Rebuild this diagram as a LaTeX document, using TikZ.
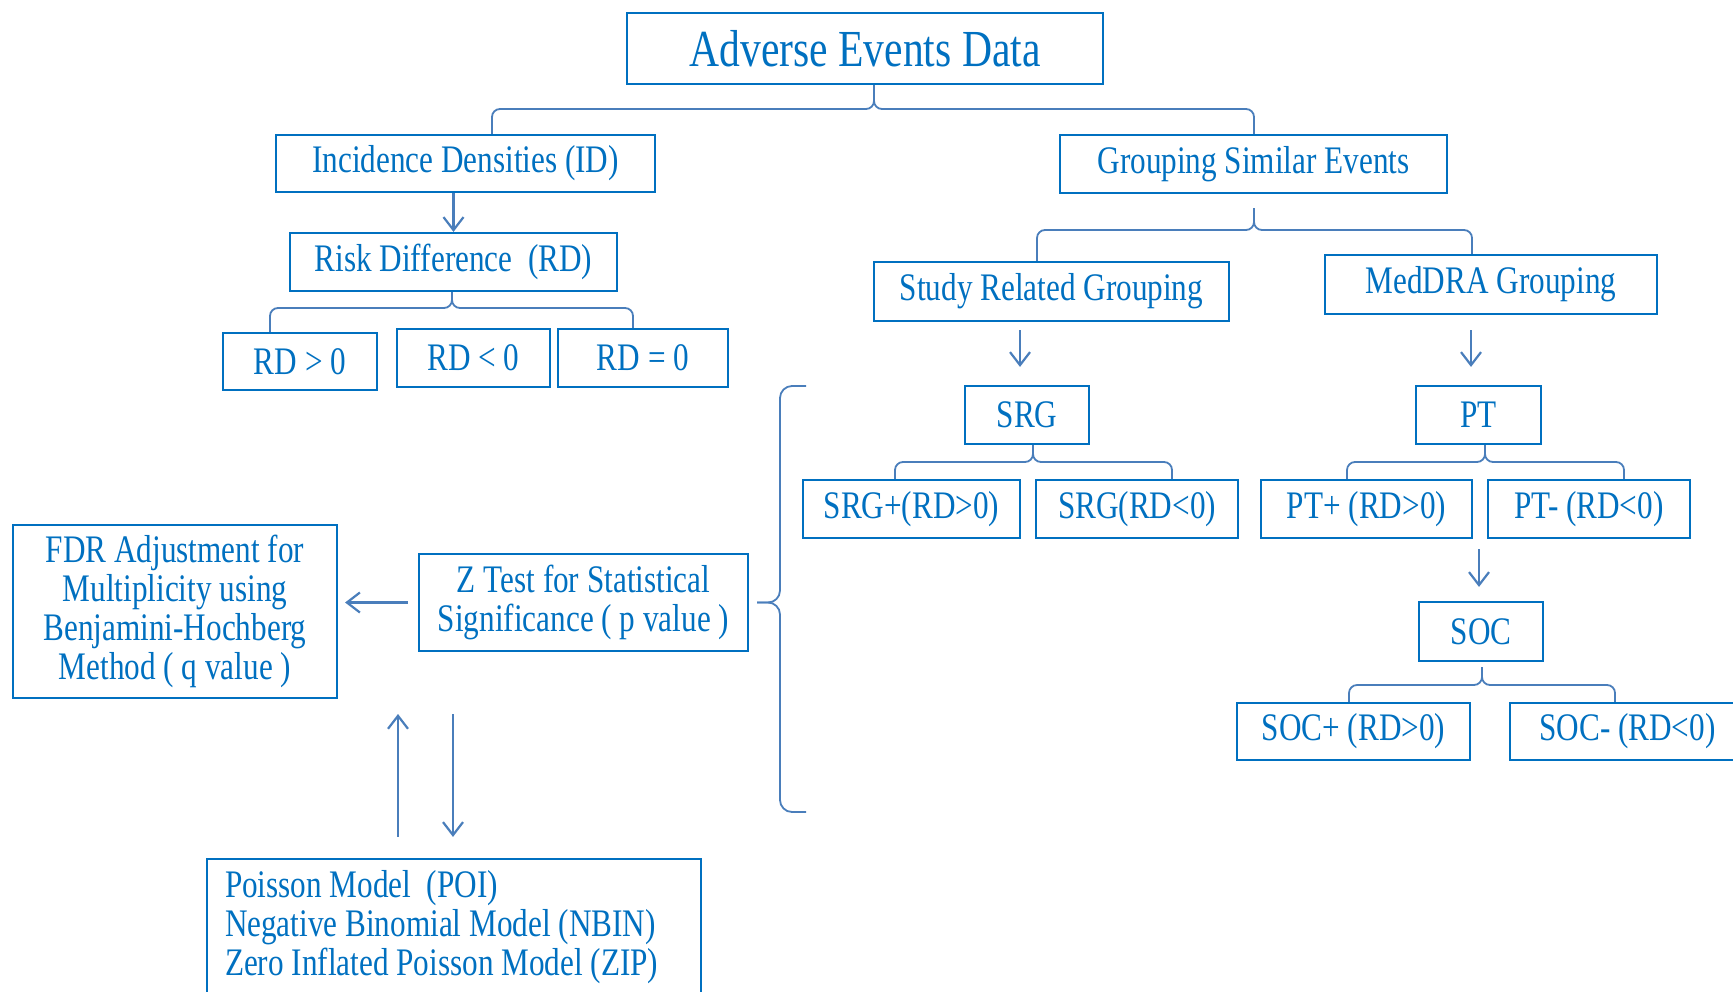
\documentclass[tikz,border=0pt]{standalone}
\usepackage{fontspec}
\setmainfont{Liberation Serif}[FakeStretch=0.8]
\usetikzlibrary{arrows.meta}
\definecolor{txtc}{RGB}{0,112,192}
\definecolor{boxc}{RGB}{0,112,192}
\definecolor{linec}{RGB}{74,126,187}
\begin{document}
\begin{tikzpicture}[x=0.5pt,y=-0.5pt,
  box/.style={draw=boxc, line width=1.1pt, text=txtc, inner sep=0pt, align=center,
    font=\fontsize{19.5}{19.5}\selectfont},
  conn/.style={draw=linec, line width=0.9pt},
  arr/.style={conn, line width=1.1pt, -{Straight Barb[length=6.5pt,width=10pt]}},
  brc/.style={conn, rounded corners=4pt}]
\useasboundingbox (0,0) rectangle (1733,991);
\clip (0,0) rectangle (1733,991);
% nodes
\node[box, minimum width=238pt, minimum height=35.5pt, font=\fontsize{26}{26}\selectfont] (aed) at (865,48.5) {Adverse Events Data};
\node[box, minimum width=189.5pt, minimum height=28.5pt] (id) at (465.5,163.5) {Incidence Densities (ID)};
\node[box, minimum width=193.5pt, minimum height=29pt] (gse) at (1253.5,164) {Grouping Similar Events};
\node[box, minimum width=163.5pt, minimum height=29pt] (rd) at (453.5,262) {Risk Difference\ \ (RD)};
\node[box, minimum width=77pt, minimum height=28.5pt] (rdp) at (300,361.5) {RD > 0};
\node[box, minimum width=76.5pt, minimum height=29pt] (rdn) at (473.5,358) {RD < 0};
\node[box, minimum width=85pt, minimum height=29pt] (rdz) at (643,358) {RD = 0};
\node[box, minimum width=177.5pt, minimum height=29.5pt] (srgg) at (1051.5,291.5) {Study Related Grouping};
\node[box, minimum width=166pt, minimum height=29.5pt] (med) at (1491,284.5) {MedDRA Grouping};
\node[box, minimum width=62pt, minimum height=29pt] (srg) at (1027,415) {SRG};
\node[box, minimum width=62.5pt, minimum height=29pt] (pt) at (1478.5,415) {PT};
\node[box, minimum width=108.5pt, minimum height=29pt] (srgp) at (911.5,509) {SRG+(RD>0)};
\node[box, minimum width=101pt, minimum height=29pt] (srgn) at (1137,509) {SRG(RD<0)};
\node[box, minimum width=105.5pt, minimum height=29pt] (ptp) at (1366.5,509) {PT+ (RD>0)};
\node[box, minimum width=101pt, minimum height=29pt] (ptn) at (1589,509) {PT- (RD<0)};
\node[box, minimum width=62pt, minimum height=29.5pt] (soc) at (1481,631.5) {SOC};
\node[box, minimum width=116.5pt, minimum height=28.5pt] (socp) at (1353.5,731.5) {SOC+ (RD>0)};
\node[box, minimum width=117.5pt, minimum height=28.5pt] (socn) at (1627.5,731.5) {SOC- (RD<0)};
\node[box, minimum width=164.5pt, minimum height=48.5pt] (zt) at (583.5,602.5) {Z Test for Statistical\\Significance ( p value )};
\node[box, minimum width=162pt, minimum height=86.5pt] (fdr) at (175,611.5) {FDR Adjustment for\\Multiplicity using\\Benjamini-Hochberg\\Method ( q value )};
\node[box, minimum width=247pt, minimum height=68.5pt, text width=229pt, align=flush left] (pm) at (454,927.5) {Poisson Model\ \ (POI)\\Negative Binomial Model (NBIN)\\Zero Inflated Poisson Model (ZIP)};
% braces
\coordinate (b1) at (874,109); \coordinate (b1l) at (492,0); \coordinate (b1r) at (1254,0);
\draw[brc] (aed.south -| b1) -- (b1) -| (id.north -| b1l);
\draw[brc] (aed.south -| b1) -- (b1) -| (gse.north -| b1r);
\coordinate (b2) at (452,308); \coordinate (b2l) at (270,0); \coordinate (b2r) at (633,0);
\draw[brc] (rd.south -| b2) -- (b2) -| (rdp.north -| b2l);
\draw[brc] (rd.south -| b2) -- (b2) -| (rdz.north -| b2r);
\coordinate (b3) at (1254,230); \coordinate (b3l) at (1037,0); \coordinate (b3r) at (1472,0);
\draw[brc, shorten <=7pt] (gse.south -| b3) -- (b3) -| (srgg.north -| b3l);
\draw[brc, shorten <=7pt] (gse.south -| b3) -- (b3) -| (med.north -| b3r);
\coordinate (b4) at (1033,462); \coordinate (b4l) at (895,0); \coordinate (b4r) at (1172,0);
\draw[brc] (srg.south -| b4) -- (b4) -| (srgp.north -| b4l);
\draw[brc] (srg.south -| b4) -- (b4) -| (srgn.north -| b4r);
\coordinate (b5) at (1485,462); \coordinate (b5l) at (1347,0); \coordinate (b5r) at (1624,0);
\draw[brc] (pt.south -| b5) -- (b5) -| (ptp.north -| b5l);
\draw[brc] (pt.south -| b5) -- (b5) -| (ptn.north -| b5r);
\coordinate (b6) at (1482,685); \coordinate (b6l) at (1349,0); \coordinate (b6r) at (1615,0);
\draw[brc, shorten <=2.5pt] (soc.south -| b6) -- (b6) -| (socp.north -| b6l);
\draw[brc, shorten <=2.5pt] (soc.south -| b6) -- (b6) -| (socn.north -| b6r);
% big left brace
\coordinate (lbm) at (780,0); \coordinate (lbt) at (806,386); \coordinate (lbb) at (806,812);
\draw[conn, rounded corners=6pt, shorten <=4pt] (zt.east) -- (zt.east -| lbm) |- (lbt);
\draw[conn, rounded corners=6pt, shorten <=4pt] (zt.east) -- (zt.east -| lbm) |- (lbb);
% arrows
\draw[arr] (id.south -| rd.north) -- (rd.north);
\coordinate (a1) at (1020,0);
\draw[arr, shorten <=4pt, shorten >=9pt] (srgg.south -| a1) -- (srg.north -| a1);
\coordinate (a2) at (1471,0);
\draw[arr, shorten <=7.5pt, shorten >=9pt] (med.south -| a2) -- (pt.north -| a2);
\coordinate (a3) at (1479,549);
\draw[arr, shorten >=7pt] (a3) -- (soc.north -| a3);
\draw[arr, shorten <=5pt, shorten >=3.5pt] (zt.west) -- (fdr.east |- zt.west);
\coordinate (up) at (398,714);
\draw[arr, shorten <=10.5pt] (pm.north -| up) -- (up);
\coordinate (dn) at (453,714);
\draw[arr, shorten >=10.5pt] (dn) -- (pm.north -| dn);
\end{tikzpicture}
\end{document}
